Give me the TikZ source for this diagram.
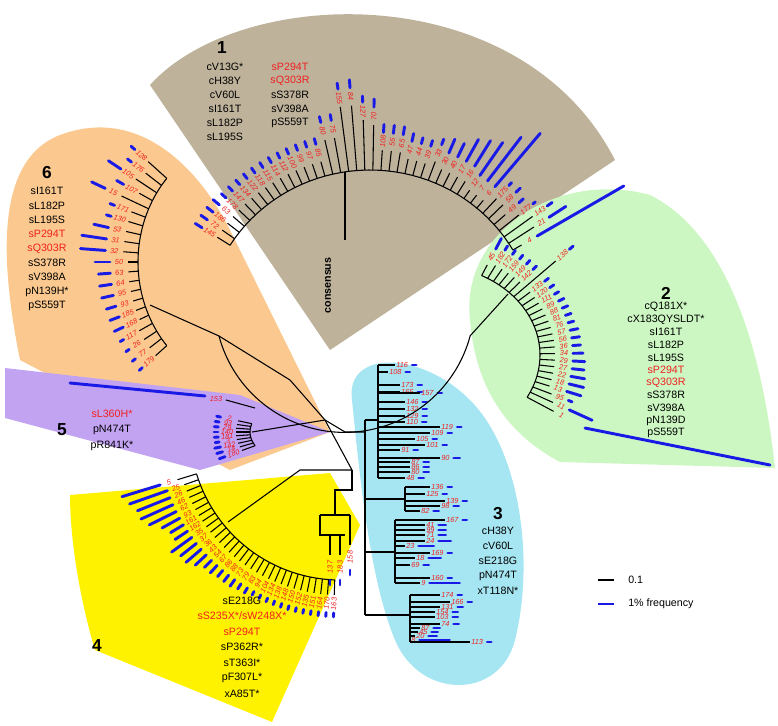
\documentclass[tikz,border=0pt]{standalone}
\usepackage{fontspec}
\setmainfont{Liberation Sans}
\definecolor{cbrown}{HTML}{BEB29B}
\definecolor{corange}{HTML}{FBC98F}
\definecolor{cgreen}{HTML}{CCF7C2}
\definecolor{ccyan}{HTML}{A6E6F2}
\definecolor{cpurple}{HTML}{C2A3F2}
\definecolor{cyellow}{HTML}{FFF200}
\definecolor{cred}{HTML}{F02020}
\definecolor{cblue}{HTML}{1A1AE6}
\tikzset{
 br/.style={black,line width=0.8pt},
 bar/.style={cblue,line width=2.2pt,line cap=round},
 num/.style={cred,font=\fontsize{5.5}{6}\selectfont\itshape,inner sep=0pt},
 mut/.style={font=\fontsize{8}{9}\selectfont,inner sep=0pt},
 mutr/.style={mut,cred},
 cnum/.style={font=\fontsize{13}{14}\selectfont\bfseries,inner sep=0pt}
}
\usetikzlibrary{calc}
% cx cy rx ry a0 a1 n list(label/tip/bar)
\newcommand\myfan[8]{%
 \draw[br] plot[domain=#5:#6,samples=40] ({#1+#3*cos(\x)},{#2-#4*sin(\x)});
 \foreach \lab/\tl/\bl [count=\i] in {#8}{%
  \pgfmathsetmacro\a{#5+(\i-1)*(#6-#5)/(#7-1)}
  \pgfmathsetmacro\rot{cos(\a)>=0 ? \a : \a-180}
  \coordinate (b) at ({#1+#3*cos(\a)},{#2-#4*sin(\a)});
  \draw[br] (b) -- ++(-\a:\tl);
  \node[num,rotate=\rot] (n\lab) at ($(b)+(-\a:\tl+9)$) {\lab};
  \ifdim\bl pt>0pt \draw[bar] ($(b)+(-\a:\tl+18)$) -- ($(b)+(-\a:\tl+18+\bl)$);\fi
 }}
\begin{document}
\begin{tikzpicture}[x=0.75pt,y=-0.75pt]
\useasboundingbox (0,0) rectangle (778,725);
% regions
\fill[cbrown] (330,350) -- (150,85) .. controls (240,-15) and (520,-25) .. (615,160) -- cycle;
\fill[corange] (330,432) -- (230,470) -- (20,360) .. controls (0,260) and (-5,160) .. (60,135) .. controls (140,105) and (200,170) .. (230,230) -- cycle;
\fill[cpurple] (5,368) -- (240,395) -- (330,432) -- (200,470) -- (5,418) -- cycle;
\fill[cyellow] (70,495) -- (330,473) -- (360,525) -- (272,722) -- (95,650) .. controls (80,600) and (70,540) .. (70,495) -- cycle;
\fill[cgreen] (470,320) .. controls (460,230) and (560,170) .. (650,195) .. controls (720,230) and (760,330) .. (775,468) -- (560,462) .. controls (500,430) and (475,380) .. (470,320) -- cycle;
\fill[ccyan] (352,400) .. controls (345,350) and (420,350) .. (470,400) .. controls (520,450) and (535,560) .. (515,640) .. controls (500,700) and (420,700) .. (395,640) .. controls (370,580) and (360,480) .. (352,400) -- cycle;
% cluster 1
\myfan{370}{330}{165}{160}{148}{30}{43}{145/15/8,72/15/8,186/15/8,63/15/8,178/15/6,147/15/6,134/15/6,122/15/6,118/15/6,115/15/6,114/15/6,112/15/6,100/15/6,99/15/6,97/15/6,85/15/6,80/35/6,75/35/6,155/65/6,84/65/8,127/50/6,70/45/8,108/20/8,55/20/8,65/20/8,47/15/8,44/15/6,39/15/6,33/20/6,30/15/15,40/15/15,17/15/25,16/15/30,12/10/40,7/10/55,6/10/70,175/20/4,58/20/6,49/15/6,177/25/3,143/35/6,21/30/20,4/10/100}
% cluster 6
\myfan{250}{262}{112}{125}{138}{222}{21}{128/25/5,176/20/5,105/25/15,107/15/8,15/30/15,171/15/5,130/15/5,53/15/15,31/15/25,32/15/25,50/10/15,63/10/12,64/10/12,95/10/12,93/10/10,185/10/10,168/10/10,117/15/4,26/15/4,77/15/4,179/15/4}
% cluster 5
\myfan{335}{432}{85}{40}{168}{200}{9}{2/14/4,93/14/4,29/14/4,140/14/4,181/14/4,3/14/4,142/14/6,14/14/6,180/14/6}
\coordinate (l153a) at (70,383); \coordinate (l153b) at (205,396);
\draw[bar] (l153a) -- (l153b);
\node[num] (n153) at (216,399) {153};
\coordinate (l153c) at (226,400); \coordinate (l153d) at (255,408);
\draw[br] (l153c) -- (l153d);
% cluster 4
\myfan{340}{430}{150}{150}{197}{268}{31}{5/20/40,25/15/40,26/15/35,46/15/35,62/15/30,93/15/20,161/15/15,162/15/15,35/15/25,37/15/20,36/15/20,43/15/15,54/15/10,67/15/10,86/15/8,88/15/8,73/15/8,79/15/6,83/15/6,94/15/4,104/15/4,134/15/4,138/15/4,148/15/4,150/15/4,152/15/4,135/15/4,151/15/4,164/15/4,170/15/4,163/15/4}
\draw[br] (320,515) -- (350,515) (320,515) -- (320,535) -- (345,535) (330,535) -- (330,555) (340,535) -- (340,555) (350,515) -- (350,545) (335,515) -- (335,490) -- (352,490) -- (352,470);
\node[num,rotate=90] (n137) at (330,567) {137};
\node[num,rotate=90] (n183) at (340,567) {183};
\node[num,rotate=90] (n158) at (350,557) {158};
\draw[bar] (330,580) -- (330,585) (340,580) -- (340,585) (350,570) -- (350,575);
% cluster 2
\myfan{430}{355}{110}{90}{62}{-28}{26}{45/12/12,182/15/5,172/15/5,159/15/5,149/15/5,142/15/5,138/55/5,133/15/5,120/15/5,111/15/5,89/15/6,88/15/6,81/15/6,76/15/6,57/15/8,56/15/8,36/15/8,34/15/10,29/15/12,27/15/12,22/15/14,18/15/15,13/15/15,95/20/4,11/25/25,1/30/0}
\coordinate (l1a) at (585,428); \coordinate (l1b) at (770,465);
\draw[bar] (l1a) -- (l1b);
% cluster 3 (rectangular)
\foreach \y/\xb/\xt/\lab/\bl in {365/378/395/116/4,372/378/388/108/4,385/378/400/173/4,392/378/400/165/4,393/378/420/157/4,402/378/405/146/4,409/378/405/132/4,416/378/405/129/4,422/378/405/110/4,427/378/440/119/4,433/378/430/109/4,439/378/415/105/4,445/378/425/101/4,450/378/400/91/4,458/378/440/90/6,462/378/410/87/5,467/378/410/86/5,472/378/410/80/5,478/378/405/48/5,487/405/430/136/4,494/405/425/125/4,501/405/445/139/4,506/405/440/98/5,511/405/420/82/5,520/395/445/167/4,525/395/425/41/7,530/395/425/99/7,535/395/425/71/7,541/395/425/24/12,546/395/405/23/15,553/395/430/169/4,558/395/415/18/12,565/395/410/69/5,578/395/430/160/4,583/395/420/9/30,595/410/440/174/4,602/410/450/166/4,607/410/440/131/5,612/410/435/154/5,617/410/435/103/5,624/410/440/74/5,628/410/420/87/6,632/410/418/45/6,636/410/415/20/8,640/410/410/8/30,642/410/470/113/4}{%
 \draw[br] (\xb,\y) -- (\xt,\y);
 \node[num,anchor=west] (c\lab) at (\xt+1,\y) {\lab};
 \draw[bar] ($(c\lab.east)+(4,0)$) -- ++(\bl,0);
}
\draw[br] (378,365) -- (378,478) (405,487) -- (405,511) (395,520) -- (395,583) (410,595) -- (410,642)
 (365,420) -- (365,615) (365,420) -- (378,420) (365,499) -- (405,499) (365,552) -- (395,552) (365,615) -- (410,615);
% backbone
\coordinate (R) at (325,420);
\draw[br] (219,336) arc[start angle=165,end angle=15,radius=130];
\draw[br] (345,240) -- (345,172);
\draw[br] (219,336) -- (150,305);
\draw[br] (470,336) -- (508,294);
\draw[br] (R) -- (290,380) -- (219,336);
\draw[br] (R) -- (252,432);
\draw[br] (R) -- (352,470);
\draw[br] (352,470) -- (300,470) -- (228,522);
\draw[br] (R) -- (345,432) -- (365,432);
\node[font=\fontsize{8}{9}\selectfont\bfseries,rotate=90,anchor=west] (cons) at (328,318) {consensus};
% cluster texts
\node[cnum] (k1) at (222,48) {1};
\foreach \t [count=\i] in {cV13G*,cH38Y,cV60L,sI161T,sL182P,sL195S}{\node[mut] (a\i) at (225,53+\i*14) {\t};}
\node[mutr] (b1) at (290,67) {sP294T};
\node[mutr] (b2) at (290,81) {sQ303R};
\foreach \t [count=\i] in {sS378R,sV398A,pS559T}{\node[mut] (b\i x) at (290,81+\i*14) {\t};}
\node[cnum] (k6) at (47,173) {6};
\foreach \t/\c [count=\i] in {sI161T/black,sL182P/black,sL195S/black,sP294T/cred,sQ303R/cred,sS378R/black,sV398A/black,pN139H*/black,pS559T/black}{\node[mut,text=\c] (f\i) at (47,177+\i*14.3) {\t};}
\node[cnum] (k2) at (666,293) {2};
\foreach \t/\c [count=\i] in {cQ181X*/black,cX183QYSLDT*/black,sI161T/black,sL182P/black,sL195S/black,sP294T/cred,sQ303R/cred,sS378R/black,sV398A/black,pN139D/black,pS559T/black}{\node[mut,text=\c] (g\i) at (666,294.4+\i*12.6) {\t};}
\node[cnum] (k5) at (62,430) {5};
\node[mutr] (p1) at (112,414) {sL360H*};
\node[mut] (p2) at (112,430) {pN474T};
\node[mut] (p3) at (112,446) {pR841K*};
\node[cnum] (k3) at (498,514) {3};
\foreach \t [count=\i] in {cH38Y,cV60L,sE218G,pN474T,xT118N*}{\node[mut] (h\i) at (498,516+\i*15) {\t};}
\node[cnum] (k4) at (97,646) {4};
\foreach \t/\c [count=\i] in {sE218G/black,{sS235X*/sW248X*}/cred,sP294T/cred,sP362R*/black,sT363I*/black,pF307L*/black,xA85T*/black}{\node[mut,text=\c] (y\i) at (242,585+\i*15.5) {\t};}
% legend
\coordinate (lg1) at (598,580); \coordinate (lg2) at (614,580);
\draw[br,line width=1.2pt] (lg1) -- (lg2);
\node[mut,anchor=west] (lgt1) at (628,580) {0.1};
\coordinate (lg3) at (598,604); \coordinate (lg4) at (614,604);
\draw[cblue,line width=1.6pt] (lg3) -- (lg4);
\node[mut,anchor=west] (lgt2) at (628,604) {1\% frequency};
\end{tikzpicture}
\end{document}
